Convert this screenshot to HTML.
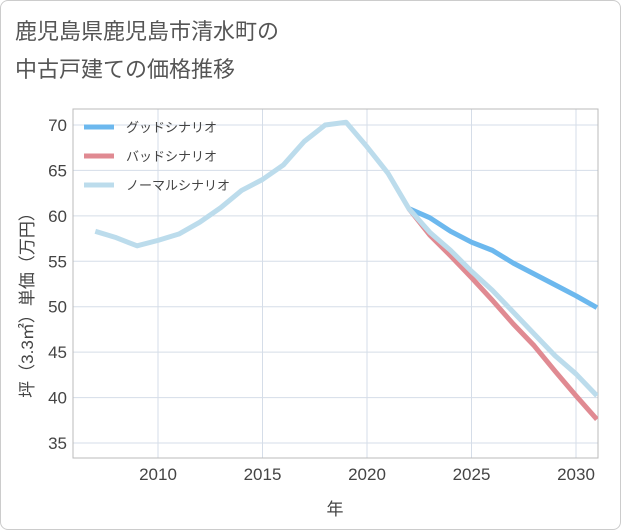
<!DOCTYPE html>
<html><head><meta charset="utf-8"><style>
body{margin:0;background:#fff;font-family:"Liberation Sans","Noto Sans CJK JP",sans-serif}
#wrap{position:relative;width:621px;height:530px;box-sizing:border-box;border:1px solid #ccc;border-radius:8px;overflow:hidden;background:#fff}
</style></head><body>
<div id="wrap">
<svg id="c" width="621" height="530"></svg>
</div>
<script>
const years=[2007,2008,2009,2010,2011,2012,2013,2014,2015,2016,2017,2018,2019,2020,2021,2022,2023,2024,2025,2026,2027,2028,2029,2030,2031];
const normalVals=[58.3,57.6,56.7,57.3,58.0,59.3,60.9,62.8,64.0,65.6,68.2,70.0,70.3,67.6,64.7,60.8,58.2,56.2,53.9,51.8,49.4,47.0,44.6,42.6,40.2];
const goodYears=[2022,2023,2024,2025,2026,2027,2028,2029,2030,2031];
const goodVals=[60.8,59.8,58.3,57.1,56.2,54.8,53.6,52.4,51.2,49.9];
const badVals=[60.8,57.9,55.6,53.2,50.7,48.1,45.7,42.9,40.2,37.6];
const xTicks=[2010,2015,2020,2025,2030];
const yTicks=[35,40,45,50,55,60,65,70];
const NS="http://www.w3.org/2000/svg";
const svg=document.getElementById('c');
const L=72,R=597,T=108,B=457;
const X=y=>157+(y-2010)*20.9;
const Y=v=>442-(v-35)*9.086;
function mk(t,a,p){const e=document.createElementNS(NS,t);for(const k in a)e.setAttribute(k,a[k]);(p||svg).appendChild(e);return e;}
// title
let t1=mk('text',{x:14,y:38,'font-size':22,fill:'#555'});t1.textContent='鹿児島県鹿児島市清水町の';


let t2=mk('text',{x:14,y:76,'font-size':22,fill:'#555'});t2.textContent='中古戸建ての価格推移';


// grid
for(const v of yTicks){const g=mk('line',{x1:L,x2:R,y1:Y(v),y2:Y(v),stroke:'#d5dde8'});


const tx=mk('text',{x:L-6,y:Y(v)+6,'text-anchor':'end','font-size':17,fill:'#444'});tx.textContent=v;

}
for(const y of xTicks){const g=mk('line',{x1:X(y),x2:X(y),y1:T,y2:B,stroke:'#d5dde8'});


const tx=mk('text',{x:X(y),y:B+22,'text-anchor':'middle','font-size':17,fill:'#444'});tx.textContent=y;

}
const ax=mk('rect',{x:L,y:T,width:R-L,height:B-T,fill:'none',stroke:'#bbb'});


const xt=mk('text',{x:334,y:514,'text-anchor':'middle','font-size':17,fill:'#444'});xt.textContent='年';


const yt=mk('text',{x:0,y:0,'text-anchor':'middle','font-size':17,fill:'#444',transform:'translate(32,300) rotate(-90)'});yt.textContent='坪（3.3㎡）単価（万円）';


const clip=mk('clipPath',{id:'cp'});mk('rect',{x:L,y:T,width:R-L,height:B-T},clip);
function line(xs,vs,col,name){const p=mk('polyline',{points:xs.map((y,i)=>X(y)+','+Y(vs[i])).join(' '),fill:'none',stroke:col,'stroke-width':5,'stroke-linejoin':'round','clip-path':'url(#cp)'});

}
line(goodYears,goodVals,'#6cb8ee','good-scenario-line');
line(goodYears,badVals,'#e08a92','bad-scenario-line');
line(years,normalVals,'#bcdcec','normal-scenario-line');
const leg=[['グッドシナリオ','#6cb8ee'],['バッドシナリオ','#e08a92'],['ノーマルシナリオ','#bcdcec']];
leg.forEach((d,i)=>{const yy=126+i*29;
const g=mk('g',{});


mk('line',{x1:83,x2:113,y1:yy,y2:yy,stroke:d[1],'stroke-width':5},g);
const tx=mk('text',{x:125,y:yy+5,'font-size':13,fill:'#444'},g);tx.textContent=d[0];});
</script>
</body></html>
